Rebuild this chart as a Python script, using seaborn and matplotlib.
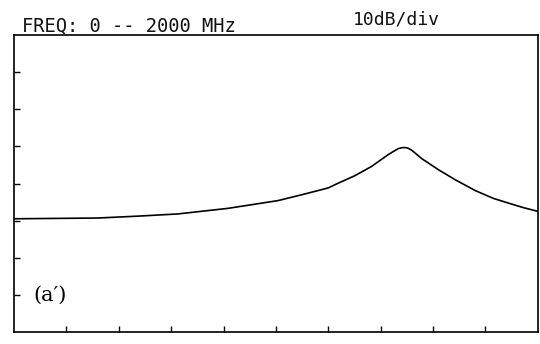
import numpy as np
import pandas as pd
import matplotlib
matplotlib.use("Agg")
import matplotlib.pyplot as plt
import seaborn as sns

# Frequency (MHz) and level (dB, relative to top of screen)
freq_mhz = [0, 160, 318, 470, 625, 816, 1008, 1100, 1199, 1238, 1301, 1365,
            1429, 1450, 1467, 1480, 1493, 1505, 1518, 1557, 1621, 1685,
            1761, 1830, 1889, 1945, 2000]
level_db = [-49.5, -49.4, -49.3, -48.8, -48.2, -46.7, -44.6, -43.0, -41.2, -39.9, -37.9, -35.4,
            -32.2, -31.3, -30.6, -30.35, -30.3, -30.5, -31.0, -33.3, -36.3, -39.0,
            -41.9, -44.0, -45.3, -46.5, -47.5]

x_ticks = [200, 400, 600, 800, 1000, 1200, 1400, 1600, 1800]
y_ticks = [-10, -20, -30, -40, -50, -60, -70]

title_left = "FREQ: 0 -- 2000 MHz"
title_right = "10dB/div"
panel_label = "(a\u2032)"

df = pd.DataFrame({"freq": freq_mhz, "level": level_db})

sns.set_style("white")
plt.rcParams["font.family"] = ["DejaVu Sans"]

fig = plt.figure(figsize=(5.4, 3.44), dpi=100)
ax = fig.add_axes([0.026, 0.035, 0.97, 0.863])

sns.lineplot(data=df, x="freq", y="level", ax=ax, color="black", linewidth=1.2)

ax.set_xlim(0, 2000)
ax.set_ylim(-80, 0)
ax.set_xticks(x_ticks)
ax.set_yticks(y_ticks)
ax.set_xticklabels([])
ax.set_yticklabels([])
ax.tick_params(axis="both", direction="in", length=4, width=1, color="black",
               bottom=True, left=True, top=False, right=False)
ax.set_xlabel("")
ax.set_ylabel("")
for s in ax.spines.values():
    s.set_visible(True)
    s.set_color("black")
    s.set_linewidth(1.2)

fig.text(0.040, 0.908, title_left, family="DejaVu Sans Mono", fontsize=13.5,
         ha="left", va="baseline", color="#111111")
fig.text(0.653, 0.928, title_right, family="DejaVu Sans Mono", fontsize=13,
         ha="left", va="baseline", color="#111111")
ax.text(75, -70, panel_label, family="DejaVu Serif", fontsize=15, ha="left",
        va="center", color="black")

fig.savefig("out.png", dpi=100)
